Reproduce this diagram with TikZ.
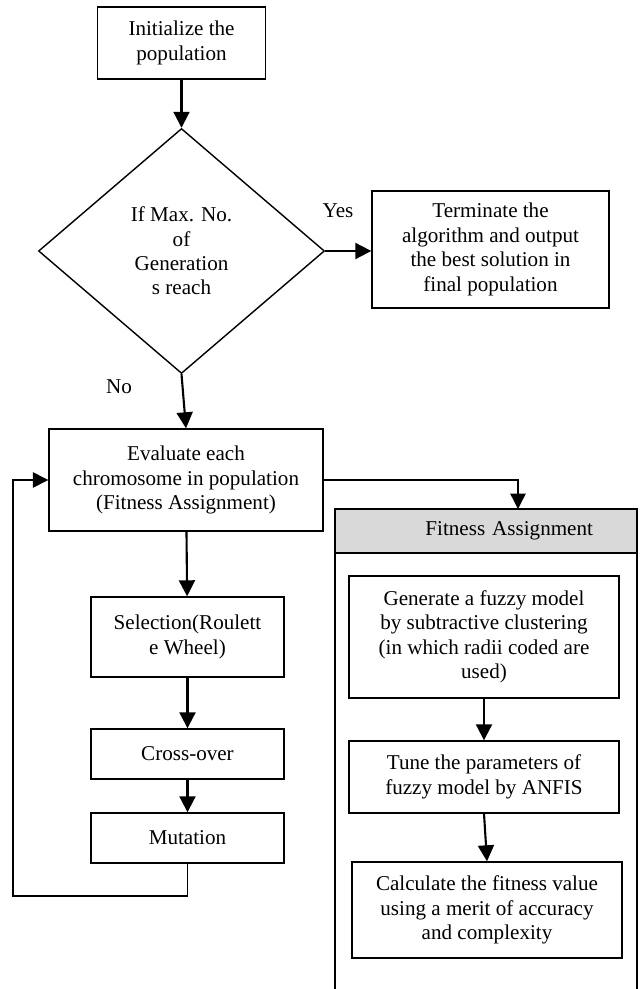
\documentclass[tikz,border=0pt]{standalone}
\usepackage{fontspec}
\setmainfont{Liberation Serif}
\usetikzlibrary{shapes.geometric,arrows.meta}
\definecolor{headgray}{HTML}{D9D9D9}
\newcommand{\figfont}{\fontsize{12}{13.9}\selectfont}

\begin{document}
\begin{tikzpicture}[font=\figfont,
box/.style={draw, line width=0.8pt, align=center, inner sep=2pt},
dec/.style={draw, diamond, line width=0.8pt, align=center, inner sep=0pt},
arr/.style={line width=1.2pt, -{Triangle[length=0.320cm,width=0.320cm]}},
thinarr/.style={line width=0.8pt, -{Triangle[length=0.310cm,width=0.310cm]}}]
\useasboundingbox (0,0) rectangle (12.820,-19.780);
\node[box, minimum width=3.360cm, minimum height=1.440cm] (init) at (3.630,-0.860) {Initialize the\\population};
\node[dec, minimum width=5.720cm, minimum height=4.900cm] (maxgen) at (3.630,-5.020) {If Max. No.\\of\\Generation\\s reach};
\node[box, minimum width=4.740cm, minimum height=2.340cm] (term) at (9.810,-4.990) {Terminate the\\algorithm and output\\the best solution in\\final population};
\node (yes) at (6.760,-4.220) {Yes};
\node (no) at (2.380,-7.740) {No};
\node[box, minimum width=5.480cm, minimum height=2.040cm] (eval) at (3.720,-9.600) {Evaluate each\\chromosome in population\\(Fitness Assignment)};
\node[box, minimum width=3.860cm, minimum height=1.600cm] (sel) at (3.750,-12.740) {Selection(Roulett\\e Wheel)};
\node[box, minimum width=3.860cm, minimum height=1.000cm] (cross) at (3.750,-15.080) {Cross-over};
\node[box, minimum width=3.860cm, minimum height=1.000cm] (mut) at (3.750,-16.760) {Mutation};
\coordinate (back) at (0.260,-17.920);
\draw[line width=0.8pt] (6.700,-19.780) -- (6.700,-10.180) -- (12.740,-10.180) -- (12.740,-19.780);
\node[draw, fill=headgray, line width=0.8pt, minimum width=6.040cm, minimum height=0.880cm, text width=4.280cm, inner xsep=0.880cm, inner ysep=0pt, align=right] (fithead) at (9.720,-10.620) {Fitness Assignment};
\coordinate (fitin) at (10.360,-10.180);
\node[box, minimum width=5.400cm, minimum height=2.440cm] (gen) at (9.680,-12.740) {Generate a fuzzy model\\by subtractive clustering\\(in which radii coded are\\used)};
\node[box, minimum width=5.400cm, minimum height=1.440cm] (tune) at (9.680,-15.540) {Tune the parameters of\\fuzzy model by ANFIS};
\node[box, minimum width=5.400cm, minimum height=1.920cm] (calc) at (9.740,-18.200) {Calculate the fitness value\\using a merit of accuracy\\and complexity};
\draw[arr] (init) -- (maxgen);
\draw[arr] (maxgen.east) -- (maxgen.east -| term.west);
\draw[arr] (maxgen.south) -- (eval.north);
\draw[arr] (eval) -- (sel);
\draw[arr] (sel) -- (cross);
\draw[arr] (cross) -- (mut);
\draw[thinarr] (mut.south) |- (back) |- (eval.west);
\draw[thinarr] (eval.east) -| (fitin);
\draw[arr] (gen) -- (tune);
\draw[arr] (tune.south) -- (calc.north);
\end{tikzpicture}
\end{document}
